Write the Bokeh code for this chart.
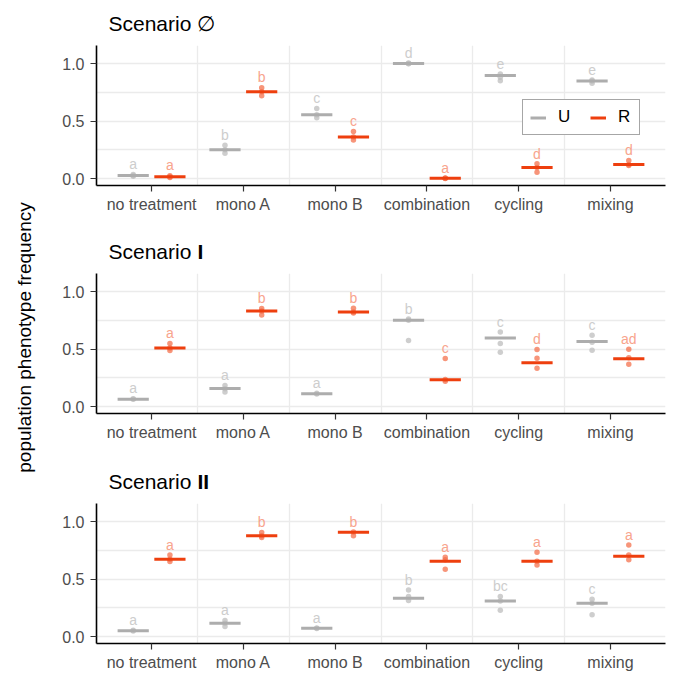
import numpy as np
from bokeh.plotting import figure
from bokeh.models import Range1d, FixedTicker, Legend, LegendItem
from bokeh.layouts import column, row
from bokeh.embed import file_html
from bokeh.resources import INLINE
from bokeh.core.properties import value

# ---------------- data ----------------
categories = ["no treatment", "mono A", "mono B", "combination", "cycling", "mixing"]
groups = ["U", "R"]
scenario_titles = ["Scenario \u2205", "Scenario", "Scenario"]
scenario_bold = ["", "I", "II"]
y_label = "population phenotype frequency"
y_ticks = [0.0, 0.5, 1.0]
y_tick_labels = ["0.0", "0.5", "1.0"]
y_minor = [0.25, 0.75]

# Scenario ∅
s0_u_points = [[0.02, 0.026, 0.035], [0.22, 0.25, 0.29], [0.53, 0.556, 0.61],
               [0.998, 1.0, 1.004], [0.85, 0.88, 0.91], [0.829, 0.849, 0.858]]
s0_u_median = [0.026, 0.25, 0.556, 1.0, 0.896, 0.849]
s0_u_letters = ["a", "b", "c", "d", "e", "e"]
s0_r_points = [[0.01, 0.015, 0.025], [0.72, 0.754, 0.79], [0.336, 0.362, 0.41],
               [0.0, 0.002, 0.006], [0.055, 0.096, 0.128], [0.113, 0.122, 0.157]]
s0_r_median = [0.015, 0.754, 0.362, 0.002, 0.096, 0.122]
s0_r_letters = ["a", "b", "c", "a", "d", "d"]

# Scenario I
s1_u_points = [[0.063, 0.068], [0.127, 0.156, 0.184], [0.11, 0.115],
               [0.574, 0.75, 0.761], [0.473, 0.548, 0.649], [0.49, 0.56, 0.62]]
s1_u_median = [0.063, 0.158, 0.112, 0.75, 0.597, 0.565]
s1_u_letters = ["a", "a", "a", "b", "c", "c"]
s1_r_points = [[0.487, 0.51, 0.548], [0.797, 0.83, 0.853], [0.813, 0.822, 0.856],
               [0.221, 0.236, 0.418], [0.334, 0.42, 0.496], [0.369, 0.424, 0.498]]
s1_r_median = [0.51, 0.83, 0.822, 0.234, 0.381, 0.415]
s1_r_letters = ["a", "b", "b", "c", "d", "ad"]

# Scenario II
s2_u_points = [[0.048, 0.055], [0.087, 0.116, 0.139], [0.07, 0.075],
               [0.313, 0.348, 0.406], [0.23, 0.31, 0.348], [0.19, 0.29, 0.325]]
s2_u_median = [0.05, 0.116, 0.073, 0.334, 0.31, 0.29]
s2_u_letters = ["a", "a", "a", "b", "bc", "c"]
s2_r_points = [[0.652, 0.673, 0.71], [0.861, 0.876, 0.904], [0.876, 0.91],
               [0.586, 0.667, 0.69], [0.623, 0.656, 0.734], [0.667, 0.71, 0.797]]
s2_r_median = [0.673, 0.876, 0.908, 0.656, 0.656, 0.699]
s2_r_letters = ["a", "b", "b", "a", "a", "a"]

# ---------------- style ----------------
FONT = "Liberation Sans"
U_SEG, R_SEG = "#ADADAD", "#EE3F0E"
U_PT, R_PT = "#BDBDBD", "#F4714E"
U_LET, R_LET = "#CDCDCD", "#F8A48D"
GRID = "#EBEBEB"
MAIN_W = 634
LABEL_W = 40
BORDER_L, BORDER_R = 56, 9
FRAME_W = MAIN_W - BORDER_L - BORDER_R


def blank_fig(w, h, left=0, right=0):
    f = figure(width=w, height=h, x_range=Range1d(0, w - left - right), y_range=Range1d(0, h),
               output_backend="svg", toolbar_location=None,
               x_axis_type=None, y_axis_type=None,
               min_border_left=left, min_border_right=right, min_border_top=0,
               min_border_bottom=0)
    f.outline_line_color = None
    f.xgrid.visible = False
    f.ygrid.visible = False
    f.background_fill_color = "white"
    f.border_fill_color = "white"
    return f


def title_fig(title, bold, h=45):
    f = blank_fig(MAIN_W, h, BORDER_L, BORDER_R)
    f.text(x=[12], y=[22], text=[title], text_font=value(FONT), text_font_size="21px",
           text_color="black", text_baseline="alphabetic", text_align="left")
    if bold:
        f.text(x=[12 + 89], y=[22], text=[bold], text_font=value(FONT),
               text_font_size="21px", text_font_style="bold", text_color="black",
               text_baseline="alphabetic", text_align="left")
    return f


def make_panel(u_pts, u_med, u_let, r_pts, r_med, r_let, height, bottom, legend=False):
    p = figure(width=MAIN_W, height=height, x_range=Range1d(0.4, 6.6),
               y_range=Range1d(-0.06, 1.157), output_backend="svg",
               toolbar_location=None, min_border_left=BORDER_L, min_border_right=BORDER_R,
               min_border_top=0, min_border_bottom=bottom)
    p.outline_line_color = None
    p.background_fill_color = "white"
    p.border_fill_color = "white"
    xs = np.arange(1, len(categories) + 1)

    rends = {}
    for name, pts, med, let, off, seg_c, pt_c, let_c in [
            ("U", u_pts, u_med, u_let, -0.2, U_SEG, U_PT, U_LET),
            ("R", r_pts, r_med, r_let, 0.2, R_SEG, R_PT, R_LET)]:
        px, py = [], []
        for i, vals in enumerate(pts):
            px += [xs[i] + off] * len(vals)
            py += list(vals)
        p.scatter(px, py, size=5.5, fill_color=pt_c, fill_alpha=0.75, line_color=None)
        r = p.segment(x0=xs + off - 0.17, x1=xs + off + 0.17, y0=med, y1=med,
                      line_color=seg_c, line_width=3)
        rends[name] = r
        ly = [max(v) + 0.09 for v in pts]
        p.text(x=xs + off, y=ly, text=let, text_font=value(FONT),
               text_font_size="14px", text_color=let_c, text_align="center",
               text_baseline="middle")

    # axes
    p.xaxis.ticker = FixedTicker(ticks=[int(x) for x in xs])
    p.xaxis.major_label_overrides = {int(x): c for x, c in zip(xs, categories)}
    p.yaxis.ticker = FixedTicker(ticks=y_ticks, minor_ticks=y_minor)
    p.yaxis.major_label_overrides = {t: l for t, l in zip(y_ticks, y_tick_labels)}
    for ax in (p.xaxis, p.yaxis):
        ax.axis_line_color = "black"
        ax.axis_line_width = 1.6
        ax.major_tick_line_color = "#333333"
        ax.major_tick_line_width = 1.2
        ax.major_tick_out = 6
        ax.major_tick_in = 0
        ax.minor_tick_line_color = None
        ax.major_label_text_font = FONT
        ax.major_label_text_font_size = "16px"
        ax.major_label_text_color = "#4D4D4D"
    p.xaxis.major_label_standoff = 4
    p.yaxis.major_label_standoff = 6

    # grids
    p.ygrid.ticker = FixedTicker(ticks=y_ticks, minor_ticks=y_minor)
    p.ygrid.grid_line_color = GRID
    p.ygrid.grid_line_width = 1.3
    p.ygrid.minor_grid_line_color = GRID
    p.ygrid.minor_grid_line_width = 1.3
    p.xgrid.ticker = FixedTicker(ticks=[x + 0.5 for x in xs[:-1]])
    p.xgrid.grid_line_color = GRID
    p.xgrid.grid_line_width = 1.3

    if legend:
        lg = Legend(items=[LegendItem(label=groups[0], renderers=[rends["U"]]),
                           LegendItem(label=groups[1], renderers=[rends["R"]])],
                    location=(426, 50), orientation="horizontal")
        lg.padding = 7
        lg.margin = 0
        lg.spacing = 18
        lg.glyph_width = 16
        lg.glyph_height = 19
        lg.label_height = 19
        lg.label_width = 14
        lg.label_standoff = 12
        lg.label_text_font = FONT
        lg.label_text_font_size = "17px"
        lg.label_text_color = "black"
        lg.border_line_color = "#4D4D4D"
        lg.border_line_width = 1
        lg.background_fill_color = "white"
        lg.background_fill_alpha = 1
        p.add_layout(lg)
    return p


t1 = title_fig(scenario_titles[0], scenario_bold[0])
f1 = make_panel(s0_u_points, s0_u_median, s0_u_letters,
                s0_r_points, s0_r_median, s0_r_letters, 183, 43, legend=True)
t2 = title_fig(scenario_titles[1], scenario_bold[1])
f2 = make_panel(s1_u_points, s1_u_median, s1_u_letters,
                s1_r_points, s1_r_median, s1_r_letters, 185, 45)
t3 = title_fig(scenario_titles[2], scenario_bold[2])
f3 = make_panel(s2_u_points, s2_u_median, s2_u_letters,
                s2_r_points, s2_r_median, s2_r_letters, 170, 30)

ylab = blank_fig(LABEL_W, 673)
ylab.text(x=[24], y=[336], text=[y_label], angle=np.pi / 2, text_font=value(FONT),
          text_font_size="19px", text_color="black", text_align="center",
          text_baseline="middle")

layout = row(ylab, column(t1, f1, t2, f2, t3, f3, spacing=0), spacing=0)
open("out.html", "w").write(file_html(layout, INLINE))
